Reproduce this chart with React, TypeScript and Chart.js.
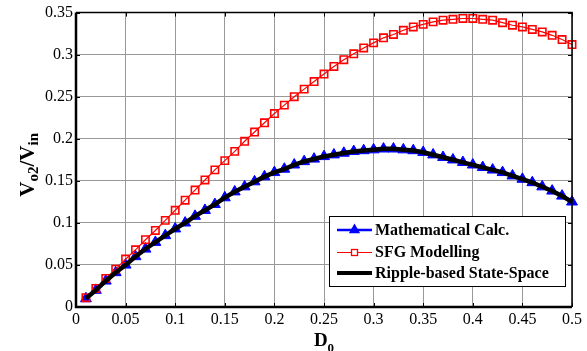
import React, { useEffect, useRef } from 'react';
import { Chart, registerables } from 'chart.js';

Chart.register(...registerables);

const dValues = [
  0.01, 0.02, 0.03, 0.04, 0.05, 0.06, 0.07, 0.08, 0.09, 0.1,
  0.11, 0.12, 0.13, 0.14, 0.15, 0.16, 0.17, 0.18, 0.19, 0.2,
  0.21, 0.22, 0.23, 0.24, 0.25, 0.26, 0.27, 0.28, 0.29, 0.3,
  0.31, 0.32, 0.33, 0.34, 0.35, 0.36, 0.37, 0.38, 0.39, 0.4,
  0.41, 0.42, 0.43, 0.44, 0.45, 0.46, 0.47, 0.48, 0.49, 0.5,
];

const mathCalc = [
  0.010, 0.020, 0.031, 0.041, 0.050, 0.060, 0.069, 0.077, 0.085, 0.093,
  0.100, 0.108, 0.115, 0.122, 0.130, 0.137, 0.143, 0.149, 0.155, 0.160,
  0.164, 0.169, 0.173, 0.176, 0.179, 0.181, 0.183, 0.185, 0.186, 0.187,
  0.188, 0.188, 0.187, 0.186, 0.184, 0.181, 0.178, 0.175, 0.172, 0.169,
  0.166, 0.163, 0.160, 0.156, 0.152, 0.148, 0.143, 0.138, 0.132, 0.125,
];

const sfgModel = [
  0.011, 0.022, 0.034, 0.045, 0.057, 0.068, 0.080, 0.091, 0.103, 0.115,
  0.127, 0.139, 0.151, 0.163, 0.174, 0.185, 0.197, 0.208, 0.219, 0.230,
  0.240, 0.250, 0.259, 0.268, 0.277, 0.286, 0.294, 0.301, 0.308, 0.314,
  0.320, 0.324, 0.329, 0.333, 0.336, 0.339, 0.341, 0.342, 0.343, 0.343,
  0.342, 0.341, 0.338, 0.335, 0.333, 0.330, 0.327, 0.323, 0.318, 0.312,
];

const rippleSS = [
  0.010, 0.020, 0.031, 0.041, 0.050, 0.060, 0.069, 0.077, 0.085, 0.093,
  0.100, 0.108, 0.115, 0.122, 0.130, 0.137, 0.143, 0.149, 0.155, 0.160,
  0.164, 0.169, 0.173, 0.176, 0.179, 0.181, 0.183, 0.185, 0.186, 0.187,
  0.188, 0.188, 0.187, 0.186, 0.184, 0.181, 0.178, 0.175, 0.172, 0.169,
  0.166, 0.163, 0.160, 0.156, 0.152, 0.148, 0.143, 0.138, 0.132, 0.125,
];

const xTickLabels = ['0', '0.05', '0.1', '0.15', '0.2', '0.25', '0.3', '0.35', '0.4', '0.45', '0.5'];
const yTickLabels = ['0', '0.05', '0.1', '0.15', '0.2', '0.25', '0.3', '0.35'];
const seriesNames = ['Mathematical Calc.', 'SFG Modelling', 'Ripple-based State-Space'];

const SERIF = "'Liberation Serif', 'Times New Roman', serif";

const toPoints = (ys: number[]) => dValues.map((x, i) => ({ x, y: ys[i] }));

const framePlugin = {
  id: 'frame',
  afterDraw(chart: any) {
    const { ctx, chartArea } = chart;
    const { left, right, top, bottom } = chartArea;
    const xs = chart.scales.x;
    const ys = chart.scales.y;
    ctx.save();
    // box
    ctx.strokeStyle = '#000';
    ctx.lineWidth = 1.5;
    ctx.beginPath();
    ctx.moveTo(left, top);
    ctx.lineTo(right, top);
    ctx.lineTo(right, bottom);
    ctx.stroke();
    ctx.lineWidth = 2.5;
    ctx.beginPath();
    ctx.moveTo(left, top);
    ctx.lineTo(left, bottom);
    ctx.lineTo(right, bottom);
    ctx.stroke();
    // inward ticks
    ctx.lineWidth = 1;
    const tl = 4;
    xs.ticks.forEach((t: any) => {
      const px = Math.round(xs.getPixelForValue(t.value)) + 0.5;
      ctx.beginPath();
      ctx.moveTo(px, bottom);
      ctx.lineTo(px, bottom - tl);
      ctx.moveTo(px, top);
      ctx.lineTo(px, top + tl);
      ctx.stroke();
    });
    ys.ticks.forEach((t: any) => {
      const py = Math.round(ys.getPixelForValue(t.value)) + 0.5;
      ctx.beginPath();
      ctx.moveTo(left, py);
      ctx.lineTo(left + tl, py);
      ctx.moveTo(right, py);
      ctx.lineTo(right - tl, py);
      ctx.stroke();
    });

    // x title: D0
    ctx.fillStyle = '#000';
    ctx.textBaseline = 'alphabetic';
    ctx.textAlign = 'left';
    const mainX = 'bold 19px ' + SERIF;
    const subX = 'bold 13px ' + SERIF;
    ctx.font = mainX;
    const wD = ctx.measureText('D').width;
    ctx.font = subX;
    const w0 = ctx.measureText('0').width;
    const cx = (left + right) / 2;
    const sx = cx - (wD + w0) / 2;
    ctx.font = mainX;
    ctx.fillText('D', sx, 346);
    ctx.font = subX;
    ctx.fillText('0', sx + wD, 352);

    // y title: Vo2/Vin rotated
    const mainY = 'bold 21px ' + SERIF;
    const subY = 'bold 15px ' + SERIF;
    const parts: [string, boolean][] = [['V', false], ['o2', true], ['/V', false], ['in', true]];
    let total = 0;
    const widths = parts.map(([s, sub]) => {
      ctx.font = sub ? subY : mainY;
      const w = ctx.measureText(s).width;
      total += w;
      return w;
    });
    ctx.save();
    ctx.translate(34, (top + bottom) / 2 + 5);
    ctx.rotate(-Math.PI / 2);
    let px = -total / 2;
    parts.forEach(([s, sub], i) => {
      ctx.font = sub ? subY : mainY;
      ctx.fillText(s, px, sub ? 4 : 0);
      px += widths[i];
    });
    ctx.restore();

    // legend
    const lx = 329, ly = 216, lw = 236, lh = 70;
    ctx.fillStyle = '#fff';
    ctx.fillRect(lx, ly, lw, lh);
    ctx.strokeStyle = '#000';
    ctx.lineWidth = 1;
    ctx.strokeRect(lx + 0.5, ly + 0.5, lw, lh);
    const rows = [230, 252, 273];
    const x1 = 337, x2 = 372, xm = (x1 + x2) / 2;
    // Row 1: blue triangle
    ctx.strokeStyle = '#0000ff';
    ctx.lineWidth = 2.5;
    ctx.beginPath();
    ctx.moveTo(x1, rows[0]);
    ctx.lineTo(x2, rows[0]);
    ctx.stroke();
    ctx.fillStyle = '#0000ff';
    ctx.beginPath();
    const r = 6.5;
    ctx.moveTo(xm, rows[0] - r);
    ctx.lineTo(xm + r * 0.866, rows[0] + r * 0.5);
    ctx.lineTo(xm - r * 0.866, rows[0] + r * 0.5);
    ctx.closePath();
    ctx.fill();
    // Row 2: red square
    ctx.strokeStyle = '#ff0000';
    ctx.lineWidth = 1;
    ctx.beginPath();
    ctx.moveTo(x1, rows[1] + 0.5);
    ctx.lineTo(x2, rows[1] + 0.5);
    ctx.stroke();
    ctx.lineWidth = 1.3;
    ctx.fillStyle = '#fff';
    ctx.fillRect(xm - 3, rows[1] - 2.5, 6, 6);
    ctx.strokeRect(xm - 3, rows[1] - 2.5, 6, 6);
    // Row 3: black
    ctx.strokeStyle = '#000';
    ctx.lineWidth = 4;
    ctx.beginPath();
    ctx.moveTo(x1, rows[2]);
    ctx.lineTo(x2, rows[2]);
    ctx.stroke();
    // labels
    ctx.fillStyle = '#000';
    ctx.font = 'bold 16px ' + SERIF;
    ctx.textBaseline = 'middle';
    seriesNames.forEach((n, i) => ctx.fillText(n, 375, rows[i] + 1));
    ctx.restore();
  },
};

export default function App() {
  const canvasRef = useRef<HTMLCanvasElement | null>(null);

  useEffect(() => {
    if (!canvasRef.current) return;
    const chart = new Chart(canvasRef.current, {
      type: 'line',
      data: {
        datasets: [
          {
            label: seriesNames[2],
            data: toPoints(rippleSS),
            borderColor: '#000000',
            borderWidth: 4.5,
            pointRadius: 0,
            order: 0,
            clip: false,
          } as any,
          {
            label: seriesNames[1],
            data: toPoints(sfgModel),
            borderColor: '#ff0000',
            borderWidth: 1.2,
            pointStyle: 'rect',
            pointRadius: 5.2,
            pointBorderWidth: 1.6,
            pointBorderColor: '#ff0000',
            pointBackgroundColor: 'rgba(0,0,0,0)',
            order: 1,
            clip: false,
          },
          {
            label: seriesNames[0],
            data: toPoints(mathCalc),
            borderColor: '#0000ff',
            borderWidth: 2,
            pointStyle: 'triangle',
            pointRadius: 6.3,
            pointBorderWidth: 1,
            pointBorderColor: '#0000ff',
            pointBackgroundColor: '#0000ff',
            order: 2,
            clip: false,
          },
        ],
      },
      options: {
        animation: false,
        responsive: false,
        layout: { padding: { top: 12, right: 15, left: 0, bottom: 0 } },
        plugins: {
          legend: { display: false },
          tooltip: { enabled: false },
        },
        elements: { line: { tension: 0 } },
        scales: {
          x: {
            type: 'linear',
            min: 0,
            max: 0.5,
            afterFit: (s: any) => { s.height = 44; },
            ticks: {
              stepSize: 0.05,
              color: '#000',
              font: { family: SERIF, size: 16 },
              padding: 3,
              maxRotation: 0,
              autoSkip: false,
              callback: (v: any, i: number) => xTickLabels[i] ?? String(Number(Number(v).toFixed(2))),
            },
            grid: { color: '#999999', lineWidth: 1, drawTicks: false },
            border: { display: false },
          },
          y: {
            type: 'linear',
            min: 0,
            max: 0.35,
            afterFit: (s: any) => { s.width = 76; },
            ticks: {
              stepSize: 0.05,
              color: '#000',
              font: { family: SERIF, size: 16 },
              padding: 3,
              autoSkip: false,
              callback: (v: any, i: number) => yTickLabels[i] ?? String(Number(Number(v).toFixed(2))),
            },
            grid: { color: '#999999', lineWidth: 1, drawTicks: false },
            border: { display: false },
          },
        },
      },
      plugins: [framePlugin],
    });
    return () => chart.destroy();
  }, []);

  return (
    <div style={{ position: 'absolute', left: 0, top: 0, width: 587, height: 351, background: '#fff' }}>
      <canvas ref={canvasRef} width={587} height={351} style={{ display: 'block' }} />
    </div>
  );
}
